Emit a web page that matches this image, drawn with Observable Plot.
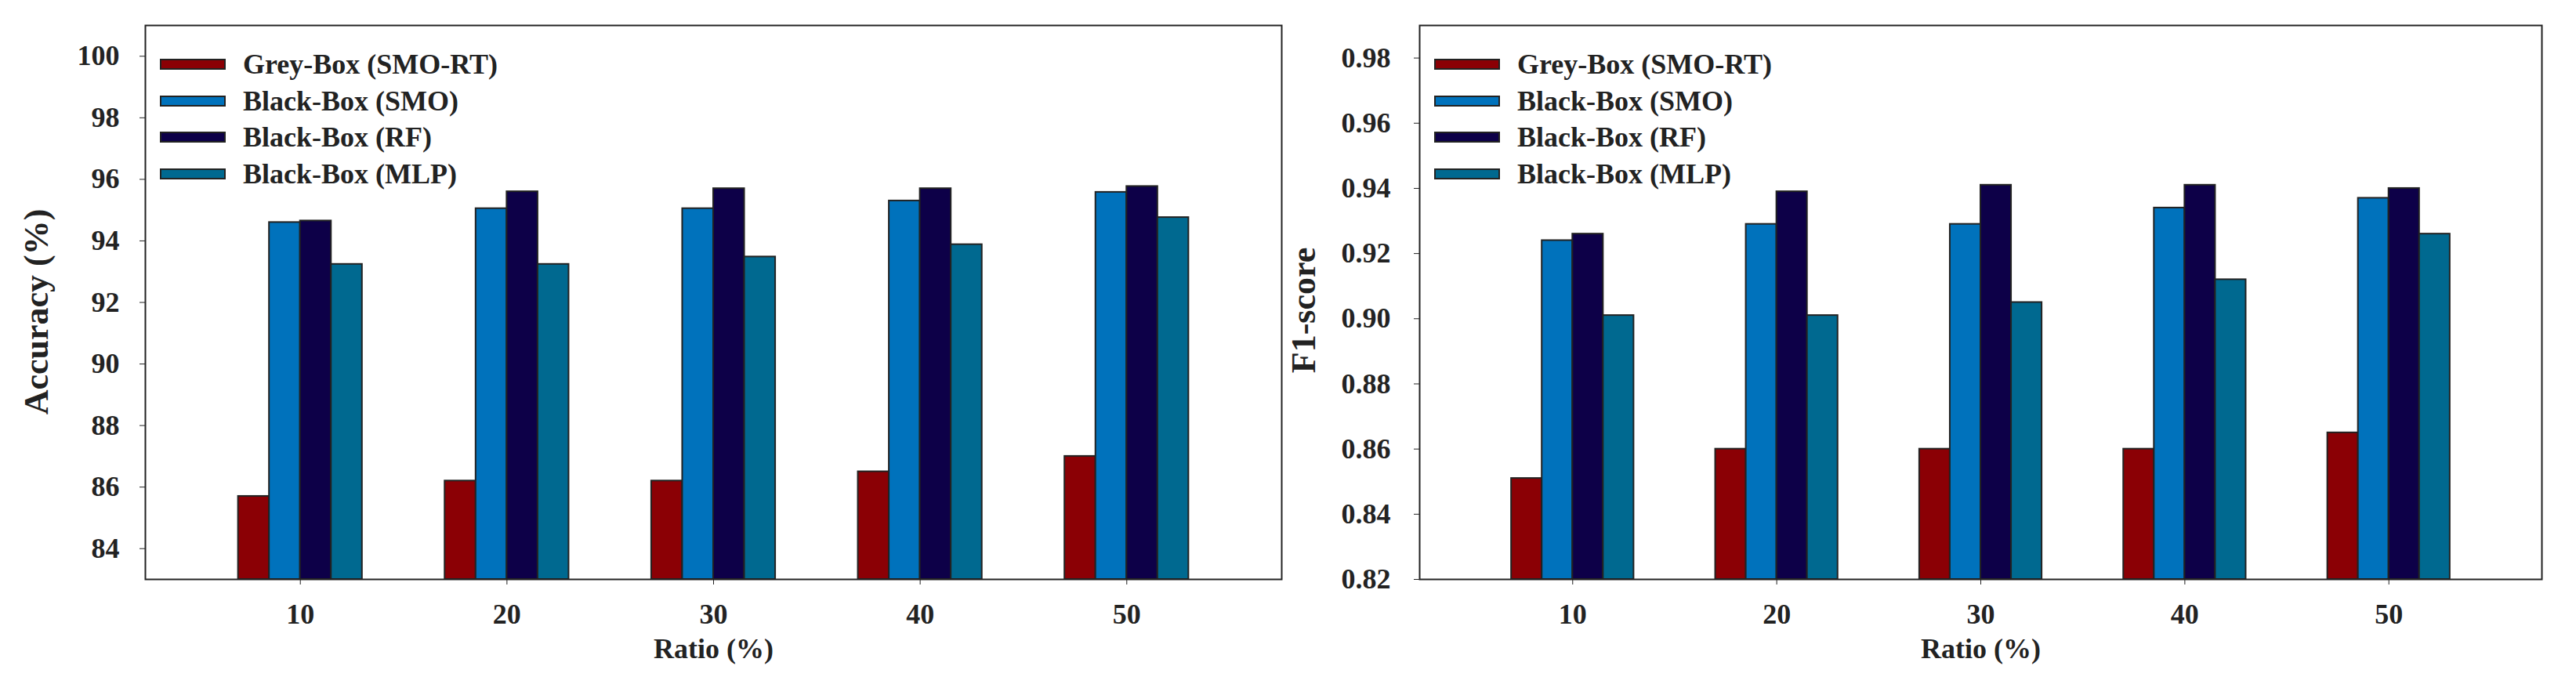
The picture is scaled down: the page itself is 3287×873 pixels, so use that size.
<!DOCTYPE html>
<html><head><meta charset="utf-8">
<script src="https://cdn.jsdelivr.net/npm/d3@7"></script>
<script src="https://cdn.jsdelivr.net/npm/@observablehq/plot@0.6"></script>
<style>
body{margin:0;background:#fff;}
#wrap{position:relative;width:3287px;height:873px;background:#fff;overflow:hidden;}
.panel{position:absolute;top:0;}
.panel svg{overflow:visible;}
.legend{position:absolute;font-family:'Liberation Serif','Times New Roman',serif;font-weight:bold;font-size:36px;color:#222;}
.row{position:absolute;left:0;height:46px;display:flex;align-items:center;white-space:nowrap;}
.sw{width:84px;height:14px;border:2px solid #222;box-sizing:border-box;margin-right:22px;}
</style></head><body><div id="wrap"></div>
<script>
// ---- data ----
const ratios = [10, 20, 30, 40, 50];
const seriesNames = ["Grey-Box (SMO-RT)", "Black-Box (SMO)", "Black-Box (RF)", "Black-Box (MLP)"];
const seriesColors = ["#8b0005", "#0072bc", "#0d0048", "#006990"];

const accGrey = [85.7, 86.2, 86.2, 86.5, 87.0];
const accSMO  = [94.6, 95.05, 95.05, 95.3, 95.58];
const accRF   = [94.65, 95.6, 95.7, 95.7, 95.77];
const accMLP  = [93.24, 93.24, 93.48, 93.88, 94.76];

const f1Grey = [0.851, 0.860, 0.860, 0.860, 0.865];
const f1SMO  = [0.924, 0.929, 0.929, 0.934, 0.937];
const f1RF   = [0.926, 0.939, 0.941, 0.941, 0.940];
const f1MLP  = [0.901, 0.901, 0.905, 0.912, 0.926];

const accTicks = [84, 86, 88, 90, 92, 94, 96, 98, 100];
const f1Ticks = [0.82, 0.84, 0.86, 0.88, 0.90, 0.92, 0.94, 0.96, 0.98];
const accDomain = [83, 101];
const f1Domain = [0.82, 0.99];
const xDomain = [2.5, 57.5];

const FONT = "'Liberation Serif','Times New Roman',serif";

function makePanel({values, yDomain, yTicks, yFormat, yLabel, width, marginLeft, marginRight, tickPadding, titleDx, titleDy}) {
  const rows = [];
  values.forEach((arr, s) => arr.forEach((v, i) => rows.push({ratio: ratios[i], series: seriesNames[s], index: s, value: v})));
  const barW = 1.5; // bar width in ratio units
  return Plot.plot({
    width, height: 873,
    marginTop: 32, marginBottom: 134, marginLeft, marginRight,
    style: {fontFamily: FONT, fontSize: "36px", fontWeight: "bold", color: "#222", background: "white", overflow: "visible"},
    x: {domain: xDomain},
    y: {domain: yDomain},
    color: {domain: seriesNames, range: seriesColors},
    marks: [
      Plot.rect(rows, {
        x1: d => d.ratio + (d.index - 2) * barW,
        x2: d => d.ratio + (d.index - 1) * barW,
        y1: () => yDomain[0], y2: "value",
        fill: "series", stroke: "#222", strokeWidth: 2
      }),
      Plot.frame({stroke: "#222", strokeWidth: 2}),
      Plot.axisX({ticks: ratios, tickSize: 7, tickPadding: 24, label: "Ratio (%)", labelAnchor: "center", labelArrow: "none", labelOffset: 100, fontSize: 36}),
      Plot.axisY({ticks: yTicks, tickSize: 7, tickPadding, tickFormat: yFormat, label: null, fontSize: 36}),
      Plot.text([yLabel], {frameAnchor: "left", text: d => d, rotate: -90, dx: titleDx, dy: titleDy, fontSize: 44, fontWeight: "bold", textAnchor: "middle"})
    ]
  });
}

function addLegend(parent, left, top) {
  const lg = document.createElement("div");
  lg.className = "legend";
  lg.style.left = left + "px";
  lg.style.top = top + "px";
  seriesNames.forEach((name, i) => {
    const r = document.createElement("div");
    r.className = "row";
    r.style.top = (i * 46.5) + "px";
    const sw = document.createElement("div");
    sw.className = "sw";
    sw.style.background = seriesColors[i];
    const t = document.createElement("span");
    t.textContent = name;
    r.appendChild(sw); r.appendChild(t);
    lg.appendChild(r);
  });
  parent.appendChild(lg);
}

const wrap = document.getElementById("wrap");

const left = makePanel({
  values: [accGrey, accSMO, accRF, accMLP], yDomain: accDomain, yTicks: accTicks,
  yFormat: d3.format("d"), yLabel: "Accuracy (%)", width: 1637, marginLeft: 185, marginRight: 2,
  tickPadding: 26, titleDx: -139, titleDy: 12
});
const lp = document.createElement("div"); lp.className = "panel"; lp.style.left = "0px";
lp.appendChild(left); wrap.appendChild(lp);

const right = makePanel({
  values: [f1Grey, f1SMO, f1RF, f1MLP], yDomain: f1Domain, yTicks: f1Ticks,
  yFormat: d3.format(".2f"), yLabel: "F1-score", width: 1650, marginLeft: 174, marginRight: 44,
  tickPadding: 30, titleDx: -148, titleDy: 10
});
const rp = document.createElement("div"); rp.className = "panel"; rp.style.left = "1637px";
rp.appendChild(right); wrap.appendChild(rp);

addLegend(wrap, 204, 59);
addLegend(wrap, 1830, 59);
</script>
</body></html>
